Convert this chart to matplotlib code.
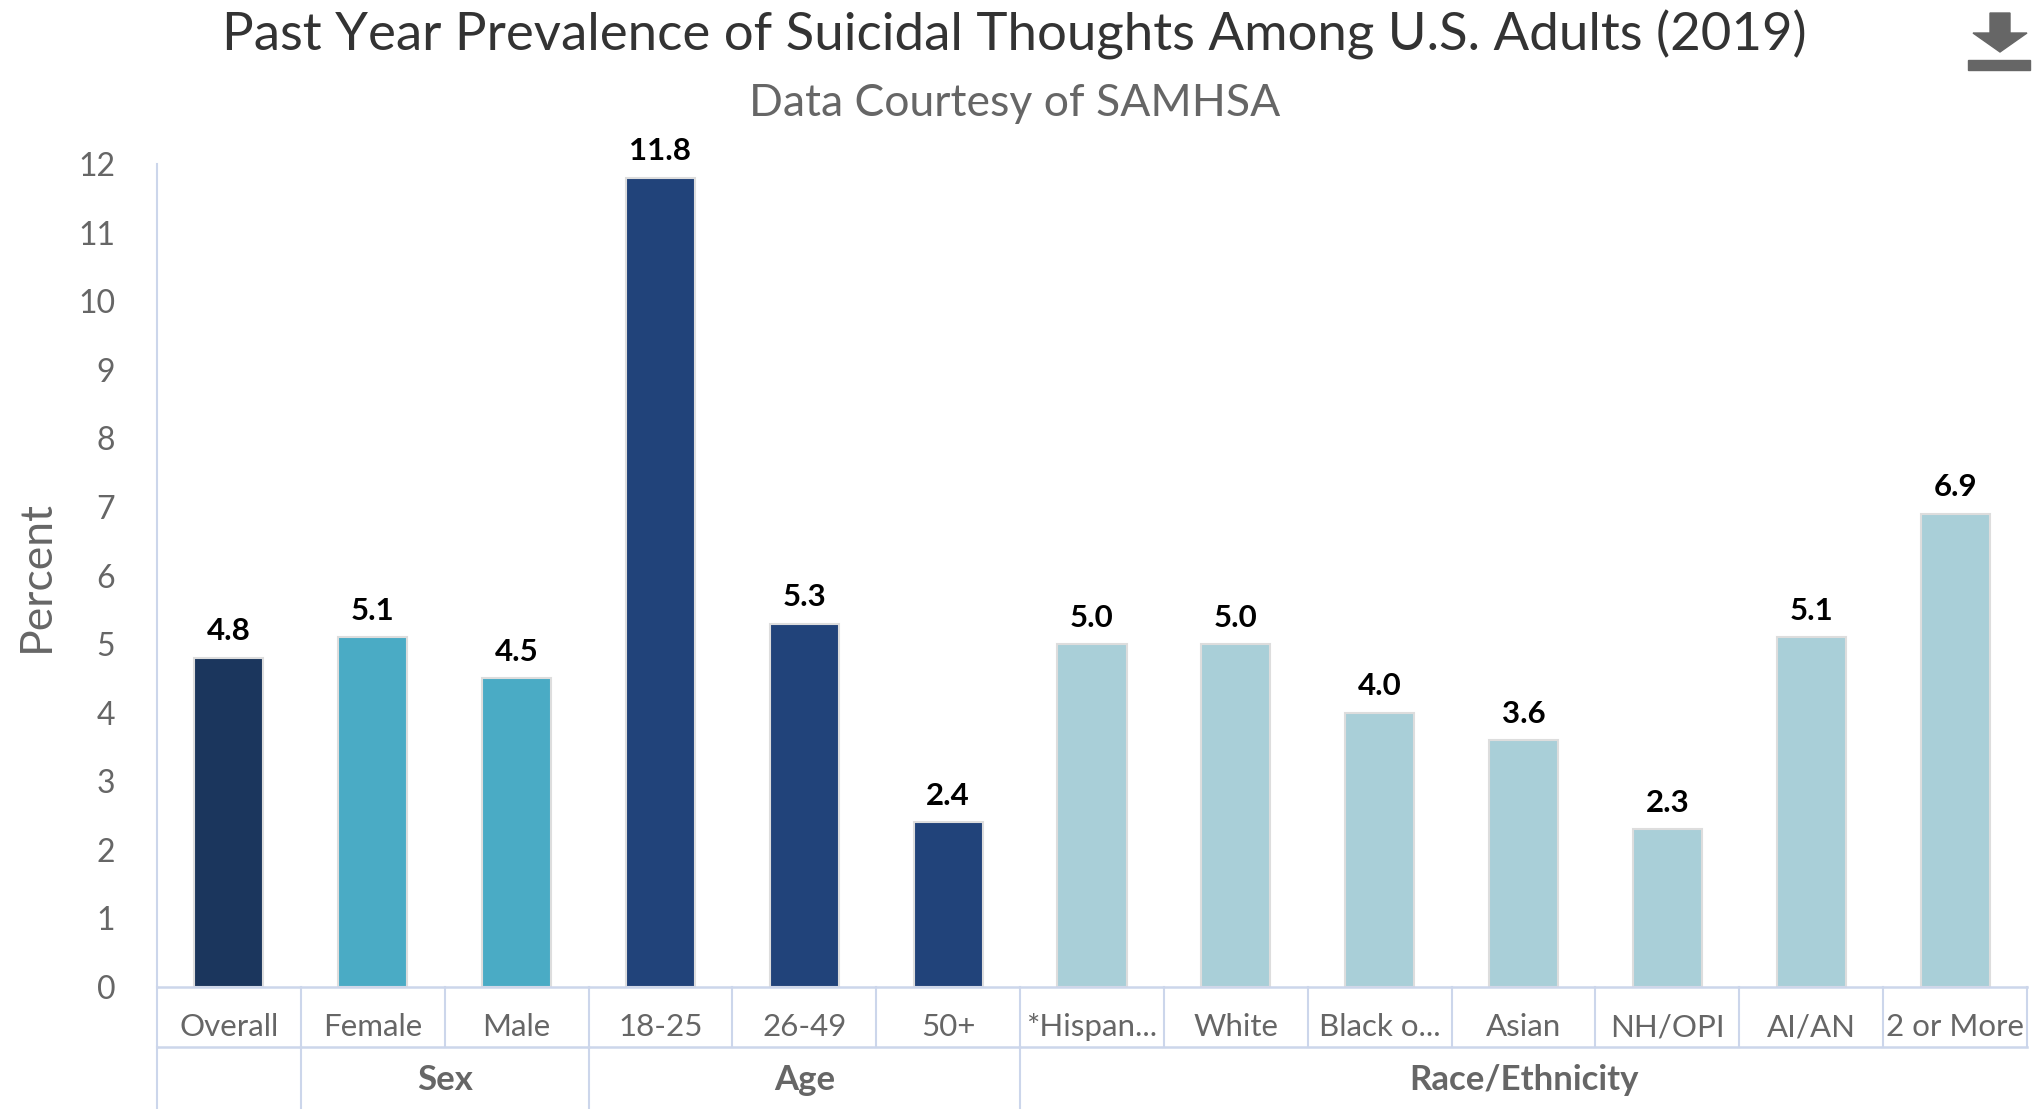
import matplotlib

matplotlib.use("Agg")
import matplotlib.pyplot as plt
from matplotlib.patches import Polygon, Rectangle

plt.rcParams["font.family"] = ["Lato", "DejaVu Sans"]

CATEGORIES = ["Overall", "Female", "Male", "18-25", "26-49", "50+",
              "*Hispan...", "White", "Black o...", "Asian", "NH/OPI", "AI/AN", "2 or More"]
VALUES = [4.8, 5.1, 4.5, 11.8, 5.3, 2.4, 5.0, 5.0, 4.0, 3.6, 2.3, 5.1, 6.9]
# (label, first index, last index)
GROUPS = [("", 0, 0), ("Sex", 1, 2), ("Age", 3, 5), ("Race/Ethnicity", 6, 12)]
GROUP_COLORS = ["#1b365d", "#4aabc5", "#21437a", "#a9cfd8"]

W, H = 2040, 1109
LINE = "#ccd6eb"
TXT = "#666666"

fig = plt.figure(figsize=(W / 100, H / 100), dpi=100)
left, right, top, bottom = 157, 2027, 164, 987
ax = fig.add_axes([left / W, 1 - bottom / H, (right - left) / W, (bottom - top) / H])

colors = []
for (_, a, b), c in zip(GROUPS, GROUP_COLORS):
    colors += [c] * (b - a + 1)

x = list(range(len(CATEGORIES)))
bars = ax.bar(x, VALUES, width=0.48, color=colors, edgecolor="#dddddd", linewidth=1.5)
for xi, v in zip(x, VALUES):
    ax.annotate(f"{v:.1f}", (xi, v), xytext=(0, 9), textcoords="offset points",
                ha="center", va="bottom", fontsize=22.5, fontweight="bold", color="#000000")

ax.set_xlim(-0.5, len(CATEGORIES) - 0.5)
ax.set_ylim(0, 12)
ax.set_yticks(range(0, 13))
ax.tick_params(axis="y", length=0, labelsize=23, labelcolor=TXT, pad=30)
ax.set_xticks([])
for s in ["top", "right", "bottom"]:
    ax.spines[s].set_visible(False)
ax.spines["left"].set_color(LINE)
ax.spines["left"].set_linewidth(1.5)
ax.set_ylabel("Percent", fontsize=32, color=TXT, labelpad=15)

# two-row category table under the axis
row1 = -(1047 - bottom) / (bottom - top)
row2 = -(H - bottom) / (bottom - top)
tr = ax.get_xaxis_transform()
n = len(CATEGORIES)
for yy in (0, row1):
    ax.plot([-0.5, n - 0.5], [yy, yy], color=LINE, lw=1.8, transform=tr, clip_on=False)
for i in range(n + 1):
    ax.plot([i - 0.5, i - 0.5], [0, row1], color=LINE, lw=1.5, transform=tr, clip_on=False)
for _, a, b in GROUPS:
    ax.plot([a - 0.5, a - 0.5], [row1, row2], color=LINE, lw=1.5, transform=tr, clip_on=False)
lab_y1 = -(1027 - bottom) / (bottom - top)
lab_y2 = -(1080 - bottom) / (bottom - top)
for xi, lab in zip(x, CATEGORIES):
    ax.text(xi, lab_y1, lab, transform=tr, ha="center", va="center",
            fontsize=22.5, color=TXT)
for lab, a, b in GROUPS:
    ax.text((a + b) / 2, lab_y2, lab, transform=tr, ha="center", va="center",
            fontsize=25, fontweight="bold", color=TXT)

fig.text(0.5 * (170 + 1390) / 1568, 1 - 35 / H, "Past Year Prevalence of Suicidal Thoughts Among U.S. Adults (2019)",
         ha="center", va="center", fontsize=38, color="#333333")
fig.text(0.5 * (575 + 985) / 1568, 1 - 103 / H, "Data Courtesy of SAMHSA",
         ha="center", va="center", fontsize=32, color=TXT)

# download icon
icon = "#666666"
def px(xp, yp):
    return (xp / W, 1 - yp / H)
fig.patches.append(Polygon([px(1990, 13), px(2010, 13), px(2010, 33), px(2027, 33),
                            px(2000, 52), px(1973, 33), px(1990, 33)],
                           closed=True, color=icon, transform=fig.transFigure))
fig.patches.append(Rectangle(px(1968, 70), 62 / W, 10 / H, color=icon, transform=fig.transFigure))

fig.savefig("out.png", dpi=100)
